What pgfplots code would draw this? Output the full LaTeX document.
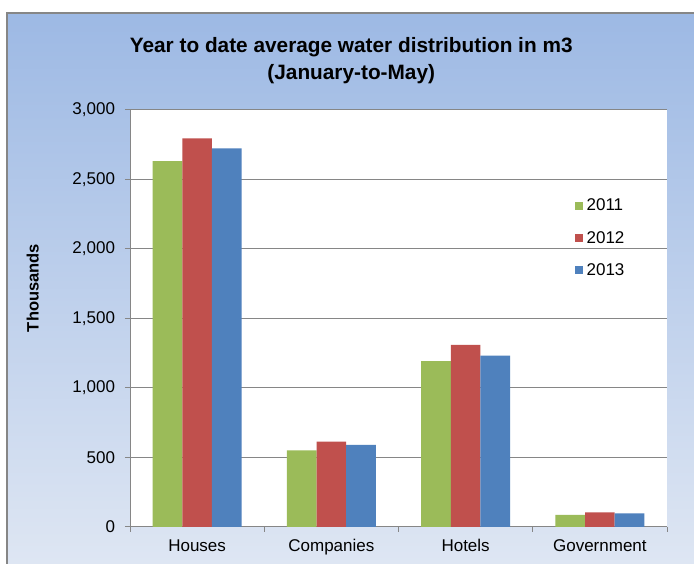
\documentclass[border=0pt]{standalone}
\usepackage{pgfplots}
\usepackage{pgfplotstable}
\pgfplotsset{compat=1.18}
\usepackage{fontspec}
\setmainfont{Liberation Sans}

\definecolor{c2011}{HTML}{9BBB59}
\definecolor{c2012}{HTML}{C0504D}
\definecolor{c2013}{HTML}{4F81BD}
\definecolor{axgray}{HTML}{868686}
\definecolor{bgtop}{RGB}{157,185,228}
\definecolor{bgbot}{RGB}{222,230,243}

% water distribution, thousands of m3
\pgfplotstableread{
x  y2011 y2012 y2013
0  2633  2796  2724
1  552   614   590
2  1194  1311  1232
3  88    106   98
}\water

\begin{document}
\begin{tikzpicture}[x=1pt,y=1pt]
\fill[white] (0,0) rectangle (694,564);
\shade[top color=bgtop, bottom color=bgbot] (7,0) rectangle (694,551);
\draw[axgray, line width=1.2pt] (7,0) -- (7,551) -- (694,551);
\begin{axis}[
    at={(130pt,37pt)}, anchor=south west,
    scale only axis, width=537pt, height=417pt,
    xmin=-0.5, xmax=3.5, ymin=0, ymax=3000,
    ybar=0pt, bar width=29.6pt,
    legend image code/.code={\fill[#1] (0pt,-4pt) rectangle (8pt,4pt);},
    axis background/.style={fill=white},
    axis x line*=bottom, axis y line*=left,
    axis line style={draw=axgray, line width=1pt, -},
    xtick={0,1,2,3},
    xticklabels={Houses,Companies,Hotels,Government},
    minor xtick={-0.5,0.5,1.5,2.5,3.5},
    ytick={0,500,...,3000},
    tick align=outside,
    major tick length=5pt, minor tick length=5pt,
    x tick style={draw=none},
    minor x tick style={draw=axgray, line width=1pt},
    y tick style={draw=axgray, line width=1pt},
    ymajorgrids, grid style={axgray, line width=1pt},
    /pgf/number format/.cd, 1000 sep={,}, assume math mode=true, /pgfplots/.cd,
    tick label style={font=\fontsize{17}{20}\selectfont, text=black},
    yticklabel style={xshift=-6.5pt},
    xticklabel style={yshift=-4pt},
    ylabel={Thousands},
    ylabel style={at={(axis description cs:-0.181,0.573)}, anchor=center,
        font=\fontsize{16.5}{19}\selectfont\bfseries},
    title={Year to date average water distribution in m3\\(January-to-May)},
    title style={at={(axis description cs:0.412,1.105)}, anchor=center,
        align=center, font=\fontsize{20.8}{27}\selectfont\bfseries},
    legend style={draw=none, fill=none, at={(axis description cs:0.822,0.797)},
        anchor=north west, row sep=15pt,
        font=\fontsize{17}{20}\selectfont,
        /tikz/every odd column/.append style={column sep=2pt}},
    legend cell align=left,
]
\addplot[fill=c2011, draw=none] table[x=x, y=y2011] {\water};
\addlegendentry{2011}
\addplot[fill=c2012, draw=none] table[x=x, y=y2012] {\water};
\addlegendentry{2012}
\addplot[fill=c2013, draw=none] table[x=x, y=y2013] {\water};
\addlegendentry{2013}
\end{axis}
\pgfresetboundingbox
\useasboundingbox (0,0) rectangle (694,564);
\end{tikzpicture}
\end{document}
